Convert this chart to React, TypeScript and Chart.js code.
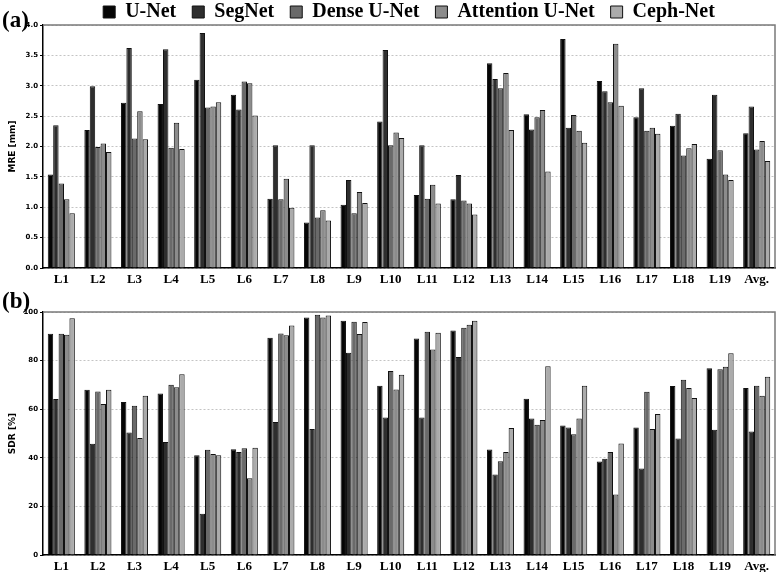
import React, { useEffect, useRef } from "react";
import { Chart, registerables } from "chart.js";

Chart.register(...registerables);

const categories = ["L1", "L2", "L3", "L4", "L5", "L6", "L7", "L8", "L9", "L10", "L11", "L12", "L13", "L14", "L15", "L16", "L17", "L18", "L19", "Avg."];
const seriesNames = ["U-Net", "SegNet", "Dense U-Net", "Attention U-Net", "Ceph-Net"];
const seriesColors = ["#050505", "#2e2e2e", "#6a6a6a", "#8c8c8c", "#ababab"];

// (a) MRE [mm]
const mreUNet = [1.54, 2.27, 2.72, 2.70, 3.10, 2.85, 1.14, 0.75, 1.04, 2.41, 1.20, 1.13, 3.37, 2.53, 3.77, 3.08, 2.48, 2.34, 1.80, 2.22];
const mreSegNet = [2.35, 2.99, 3.62, 3.60, 3.87, 2.61, 2.02, 2.02, 1.45, 3.59, 2.02, 1.53, 3.11, 2.28, 2.31, 2.91, 2.96, 2.54, 2.85, 2.66];
const mreDense = [1.39, 1.99, 2.13, 1.98, 2.64, 3.07, 1.13, 0.83, 0.90, 2.02, 1.14, 1.11, 2.96, 2.48, 2.52, 2.73, 2.26, 1.85, 1.94, 1.95];
const mreAttention = [1.13, 2.05, 2.58, 2.39, 2.66, 3.04, 1.47, 0.95, 1.25, 2.23, 1.37, 1.06, 3.21, 2.60, 2.26, 3.69, 2.31, 1.97, 1.54, 2.09];
const mreCeph = [0.90, 1.91, 2.12, 1.96, 2.73, 2.51, 0.99, 0.78, 1.07, 2.14, 1.06, 0.88, 2.27, 1.59, 2.06, 2.67, 2.21, 2.04, 1.45, 1.76];

// (b) SDR [%]
const sdrUNet = [91.0, 68.0, 63.0, 66.5, 41.0, 43.5, 89.4, 97.7, 96.4, 69.6, 89.1, 92.4, 43.4, 64.3, 53.3, 38.5, 52.5, 69.5, 76.9, 68.7];
const sdrSegNet = [64.2, 45.8, 50.4, 46.5, 17.0, 42.4, 54.7, 51.9, 83.2, 56.6, 56.6, 81.5, 33.1, 56.2, 52.5, 39.6, 35.6, 47.9, 51.5, 50.8];
const sdrDense = [91.1, 67.3, 61.4, 70.1, 43.3, 43.9, 91.2, 98.9, 96.0, 75.7, 91.9, 93.5, 38.6, 53.6, 49.7, 42.4, 67.2, 72.1, 76.4, 69.6];
const sdrAttention = [90.6, 62.1, 48.1, 69.0, 41.6, 31.6, 90.4, 97.7, 90.9, 68.1, 84.6, 94.8, 42.4, 55.6, 56.2, 24.9, 51.9, 68.7, 77.5, 65.5];
const sdrCeph = [97.4, 68.0, 65.5, 74.4, 41.1, 44.1, 94.4, 98.6, 95.9, 74.2, 91.5, 96.4, 52.3, 77.7, 69.6, 45.9, 58.0, 64.6, 83.0, 73.4];

const mreSeries = [mreUNet, mreSegNet, mreDense, mreAttention, mreCeph];
const sdrSeries = [sdrUNet, sdrSegNet, sdrDense, sdrAttention, sdrCeph];

const framePlugin = {
  id: "frame",
  afterDraw(chart: any) {
    const { ctx, chartArea: a } = chart;
    ctx.save();
    ctx.strokeStyle = "#7a7a7a";
    ctx.lineWidth = 1.5;
    ctx.beginPath();
    ctx.moveTo(a.left, a.top);
    ctx.lineTo(a.right, a.top);
    ctx.lineTo(a.right, a.bottom);
    ctx.stroke();
    ctx.restore();
  },
};

// fixes the legend box height so that the plot starts right below it
function legendHeightPlugin(h: number) {
  return {
    id: "legendHeight",
    beforeInit(chart: any) {
      const lg = chart.legend;
      if (!lg) return;
      const fit = lg.fit.bind(lg);
      lg.fit = function () {
        fit();
        if (this.options.display) this.height = h;
      };
    },
  };
}

function makeDatasets(series: number[][]) {
  return series.map((data, i) => ({
    label: seriesNames[i],
    data,
    backgroundColor: seriesColors[i],
    borderColor: "#111",
    borderWidth: 1,
    categoryPercentage: 0.74,
    barPercentage: 1.0,
  }));
}

type PanelProps = {
  series: number[][];
  max: number;
  step: number;
  title: string;
  decimals: number;
  legend: boolean;
  topPad: number;
  width: number;
  height: number;
};

function makeOptions(opts: PanelProps) {
  return {
    responsive: false,
    animation: false as const,
    layout: { padding: { top: opts.topPad, right: 2, left: 0, bottom: 0 } },
    plugins: {
      legend: {
        display: opts.legend,
        fullSize: false,
        labels: {
          boxWidth: 12,
          boxHeight: 12,
          padding: 16,
          color: "#000",
          font: { family: "'Liberation Serif', 'Times New Roman', serif", size: 20, weight: "bold" as const },
        },
      },
      tooltip: { enabled: false },
    },
    scales: {
      x: {
        grid: { display: false, drawTicks: false },
        border: { color: "#000", width: 1.5 },
        ticks: {
          color: "#000",
          padding: 5,
          font: { family: "'Liberation Serif', 'Times New Roman', serif", size: 13, weight: "bold" as const, lineHeight: 1 },
          maxRotation: 0,
          autoSkip: false,
        },
      },
      y: {
        min: 0,
        max: opts.max,
        afterFit(scale: any) {
          scale.width = 43;
        },
        border: { color: "#000", width: 1.5, dash: [2, 2] },
        grid: {
          color: "#c4c4c4",
          lineWidth: 1,
          drawTicks: true,
          tickLength: 3,
          tickColor: "#000",
        },
        ticks: {
          stepSize: opts.step,
          color: "#000",
          padding: 2,
          font: { family: "'DejaVu Sans', sans-serif", size: 7, weight: "bold" as const },
          callback: (v: any) => Number(v).toFixed(opts.decimals),
        },
        title: {
          display: true,
          text: opts.title,
          color: "#000",
          padding: { top: 7, bottom: 0 },
          font: { family: "'DejaVu Sans', sans-serif", size: 9, weight: "bold" as const },
        },
      },
    },
  };
}

function BarPanel(props: PanelProps) {
  const ref = useRef<HTMLCanvasElement | null>(null);
  useEffect(() => {
    if (!ref.current) return;
    const options: any = makeOptions(props);
    const plugins: any[] = [framePlugin];
    if (props.legend) plugins.push(legendHeightPlugin(39));
    const chart = new Chart(ref.current, {
      type: "bar",
      data: { labels: categories, datasets: makeDatasets(props.series) as any },
      options,
      plugins,
    });
    return () => chart.destroy();
  }, []);
  return <canvas ref={ref} width={props.width} height={props.height} style={{ width: props.width, height: props.height, display: "block" }} />;
}

const panelLabelStyle: React.CSSProperties = {
  position: "absolute",
  left: 2,
  fontFamily: "'Liberation Serif', 'Times New Roman', serif",
  fontWeight: "bold",
  fontSize: 23,
  lineHeight: "23px",
  color: "#000",
};

export default function App() {
  return (
    <div style={{ position: "absolute", left: 0, top: 0, width: 777, height: 572, background: "#fff", overflow: "hidden" }}>
      <div style={{ position: "absolute", left: 0, top: -14 }}>
        <BarPanel series={mreSeries} max={4} step={0.5} title="MRE [mm]" decimals={1} legend={true} topPad={0} width={777} height={305} />
      </div>
      <div style={{ position: "absolute", left: 0, top: 290 }}>
        <BarPanel series={sdrSeries} max={100} step={20} title="SDR [%]" decimals={0} legend={false} topPad={22} width={777} height={288} />
      </div>
      <div style={{ ...panelLabelStyle, top: 8 }}>(a)</div>
      <div style={{ ...panelLabelStyle, top: 289 }}>(b)</div>
    </div>
  );
}
